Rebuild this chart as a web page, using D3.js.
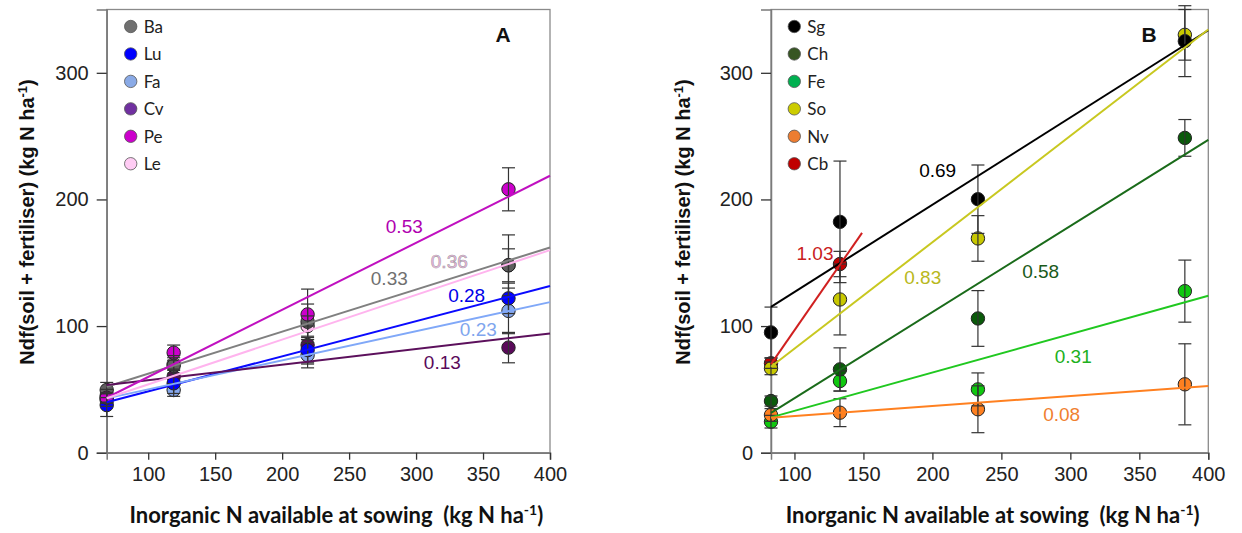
<!DOCTYPE html>
<html>
<head>
<meta charset="utf-8">
<script src="https://cdn.jsdelivr.net/npm/d3@7"></script>
<style>
  html, body { margin: 0; padding: 0; background: #fff; }
  svg { display: block; }
</style>
</head>
<body>
<svg id="chart" width="1242" height="533"></svg>
<script>
// ---------------- DATA ----------------
// Panel A
const leftX = [69, 119, 219, 369];
const leftNames = ["Ba", "Lu", "Fa", "Cv", "Pe", "Le"];
const leftValues = [
  [49.5, 68.7, 103.4, 148],
  [37.6, 54.8, 81, 121.9],
  [41.6, 49.5, 77, 112],
  [45, 60, 85, 83],
  [43.4, 79, 109.2, 208],
  [43, 70, 100, 148]
];
const leftErrors = [
  [6, 8, 14, 24],
  [9, 8, 10, 12],
  [5, 5, 10, 18],
  [5, 6, 15, 12],
  [4, 6, 20, 17],
  [4, 5, 8, 13]
];
const leftSlopes = ["0.33", "0.28", "0.23", "0.13", "0.53", "0.36"];
const leftFitStart = [52.1, 39.8, 42.9, 53.4, 43.4, 43];
const leftFitEnd = [162.1, 131.6, 118.9, 94.2, 218.7, 160];
const leftFitXEnd = [400, 400, 400, 400, 400, 400];

// Panel B
const rightX = [83, 133, 233, 383];
const rightNames = ["Sg", "Ch", "Fe", "So", "Nv", "Cb"];
const rightValues = [
  [95, 182.3, 200.2, 325],
  [40.8, 65.8, 106, 248.6],
  [24.5, 56.6, 50, 127.6],
  [66.6, 121, 169.2, 330],
  [29.8, 31.6, 34.3, 54],
  [70.6, 149]
];
const rightErrors = [
  [20, 48, 27, 28],
  [4, 17, 22, 14.5],
  [5, 8, 13, 24.5],
  [5, 28, 18, 20],
  [5, 11, 18.5, 32],
  [4, 10]
];
const rightSlopes = ["0.69", "0.58", "0.31", "0.83", "0.08", "1.03"];
const rightFitStart = [115.2, 31.5, 27.9, 67.9, 27.6, 70];
const rightFitEnd = [333.6, 247, 123.9, 334.2, 52.6, 173.6];
const rightFitXEnd = [400, 400, 400, 400, 400, 149];

const yTicks = [0, 100, 200, 300];
const xTicks = [100, 150, 200, 250, 300, 350, 400];

// ---------------- STYLE ----------------
const leftStyle = {
  legend: ["#707070", "#0000ff", "#8aaae6", "#7030a0", "#cc00cc", "#ffccf4"],
  point:  ["#5e5e5e", "#0000ff", "#86a8ee", "#5a0a5a", "#cc00cc", "#ffc6f0"],
  line:   ["#808080", "#0a0aff", "#80a8f8", "#5c105c", "#c010c0", "#ffb4ee"],
  label:  ["#707070", "#0000e8", "#80a6ee", "#5a0a5a", "#b000b0", "#f8b4e8"],
  labelAt: [[280, 137.6], [337.8, 124.5], [346.5, 97.4], [319.6, 71], [291.2, 178.9], [324.8, 151.3]],
  drawOrder: [5, 3, 2, 1, 0, 4]
};
const rightStyle = {
  legend: ["#000000", "#375623", "#00b050", "#cccc00", "#ed7d31", "#c00000"],
  point:  ["#000000", "#0a5a0a", "#10c810", "#c8c800", "#ff8020", "#c00000"],
  line:   ["#000000", "#1a6b1a", "#20c820", "#c8c820", "#ff8020", "#d02020"],
  label:  ["#000000", "#1a5a1a", "#20b020", "#b8b820", "#f08030", "#c82020"],
  labelAt: [[203.8, 223.1], [278.5, 142.9], [302.1, 76.3], [193, 138.4], [293.7, 30.5], [114.9, 157.4]],
  drawOrder: [2, 1, 4, 5, 3, 0]
};

const svg = d3.select("#chart");
svg.append("rect").attr("width", 1242).attr("height", 533).attr("fill", "#fff");

function drawPanel(o) {
  const x = d3.scaleLinear().domain(o.xDomain).range([o.left, o.right]);
  const y = d3.scaleLinear().domain([0, 350]).range([452.7, 9.5]);
  const g = svg.append("g");

  // frame
  g.append("rect")
    .attr("x", o.left).attr("y", y(350))
    .attr("width", o.right - o.left).attr("height", y(0) - y(350))
    .attr("fill", "none").attr("stroke", "#8a8a8a").attr("stroke-width", 1.3);

  // axes
  const ya = g.append("g").attr("transform", `translate(${o.left},0)`)
    .call(d3.axisLeft(y).tickValues(yTicks).tickSize(10).tickPadding(8));
  const xa = g.append("g").attr("transform", `translate(0,${y(0)})`)
    .call(d3.axisBottom(x).tickValues(xTicks).tickSize(7).tickPadding(7));
  [ya, xa].forEach(a => {
    a.select(".domain").attr("stroke", "#7a7a7a").attr("stroke-width", 1.5);
    a.selectAll(".tick line").attr("stroke", "#333").attr("stroke-width", 1.3);
    a.selectAll(".tick text")
      .attr("font-family", "'Liberation Sans', Arial, sans-serif")
      .attr("font-size", 20).attr("fill", "#222");
  });

  const st = o.style;
  const n = o.names.length;

  // points
  st.drawOrder.forEach(i => {
    const vals = o.values[i];
    g.append("g").selectAll("circle")
      .data(vals.map((v, k) => [o.xs[k], v]))
      .join("circle")
      .attr("cx", d => x(d[0])).attr("cy", d => y(d[1]))
      .attr("r", 6.7)
      .attr("fill", st.point[i]).attr("stroke", "#222").attr("stroke-width", 1);
  });

  // error bars
  for (let i = 0; i < n; i++) {
    const vals = o.values[i], errs = o.errors[i];
    vals.forEach((v, k) => {
      const cx = x(o.xs[k]), e = errs[k];
      const eg = g.append("g").attr("stroke", "#333").attr("stroke-width", 1.2);
      eg.append("line").attr("x1", cx).attr("x2", cx).attr("y1", y(v - e)).attr("y2", y(v + e));
      eg.append("line").attr("x1", cx - 6.5).attr("x2", cx + 6.5).attr("y1", y(v - e)).attr("y2", y(v - e));
      eg.append("line").attr("x1", cx - 6.5).attr("x2", cx + 6.5).attr("y1", y(v + e)).attr("y2", y(v + e));
    });
  }

  // regression lines
  for (let i = 0; i < n; i++) {
    g.append("line")
      .attr("x1", x(o.xDomain[0])).attr("y1", y(o.fitStart[i]))
      .attr("x2", x(o.fitXEnd[i])).attr("y2", y(o.fitEnd[i]))
      .attr("stroke", st.line[i]).attr("stroke-width", 2);
  }

  // slope labels
  for (let i = 0; i < n; i++) {
    const [lx, ly] = st.labelAt[i];
    const t = g.append("text")
      .attr("x", x(lx)).attr("y", y(ly))
      .attr("text-anchor", "middle").attr("dominant-baseline", "central")
      .attr("font-family", "'Liberation Sans', Arial, sans-serif")
      .attr("font-size", 19).attr("fill", st.label[i])
      .text(o.slopes[i]);
    if (o.ghost === i) t.attr("stroke", "#a0a0a0").attr("stroke-width", 0.6);
  }

  // legend
  o.names.forEach((nm, i) => {
    const cy = 26.5 + i * 27.45;
    g.append("circle").attr("cx", o.legendX).attr("cy", cy).attr("r", 6.2)
      .attr("fill", st.legend[i]).attr("stroke", "#555").attr("stroke-width", 0.8);
    g.append("text").attr("x", o.legendX + 13).attr("y", cy)
      .attr("dominant-baseline", "central")
      .attr("font-family", "Lato, 'Open Sans', sans-serif")
      .attr("font-size", 17).attr("fill", "#222").text(nm);
  });

  // panel letter
  g.append("text").attr("x", o.letterX).attr("y", 42)
    .attr("text-anchor", "middle")
    .attr("font-family", "'Liberation Sans', Arial, sans-serif")
    .attr("font-weight", "bold").attr("font-size", 21).attr("fill", "#111")
    .text(o.letter);

  // x title
  const xt = g.append("text")
    .attr("x", (o.left + o.right) / 2 + o.xTitleShift).attr("y", 523)
    .attr("text-anchor", "middle")
    .attr("font-family", "Lato, 'Open Sans', sans-serif")
    .attr("font-weight", "bold").attr("font-size", 22).attr("fill", "#111");
  xt.append("tspan").text("Inorganic N available at sowing\u00a0\u00a0(kg N ha");
  xt.append("tspan").attr("baseline-shift", "super").attr("font-size", 14).text("-1");
  xt.append("tspan").text(")");

  // y title
  const yt = g.append("text")
    .attr("transform", `translate(${o.yTitleX},222) rotate(-90)`)
    .attr("text-anchor", "middle")
    .attr("font-family", "'Liberation Sans', Arial, sans-serif")
    .attr("font-weight", "bold").attr("font-size", 20).attr("fill", "#111");
  yt.append("tspan").text("Ndf(soil + fertiliser) (kg N ha");
  yt.append("tspan").attr("baseline-shift", "super").attr("font-size", 13).text("-1");
  yt.append("tspan").text(")");
}

drawPanel({
  left: 106.7, right: 550, xDomain: [69, 400], xs: leftX,
  names: leftNames, values: leftValues, errors: leftErrors, slopes: leftSlopes,
  fitStart: leftFitStart, fitEnd: leftFitEnd, fitXEnd: leftFitXEnd,
  style: leftStyle, legendX: 130.7, letter: "A", letterX: 503, yTitleX: 34, ghost: 5,
  xTitleShift: 8
});
drawPanel({
  left: 771, right: 1208.3, xDomain: [83, 400], xs: rightX,
  names: rightNames, values: rightValues, errors: rightErrors, slopes: rightSlopes,
  fitStart: rightFitStart, fitEnd: rightFitEnd, fitXEnd: rightFitXEnd,
  style: rightStyle, legendX: 794.3, letter: "B", letterX: 1149, yTitleX: 690, ghost: -1,
  xTitleShift: 3
});
</script>
</body>
</html>
